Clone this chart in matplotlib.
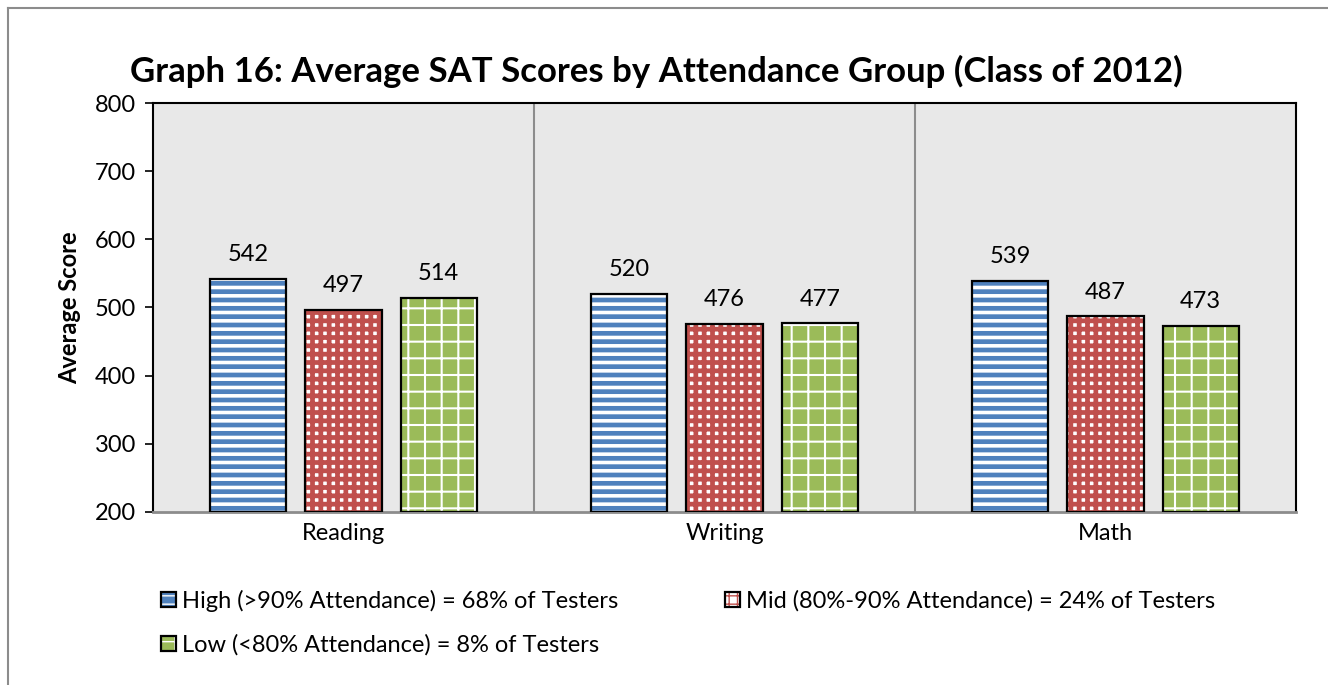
import matplotlib
matplotlib.use('Agg')
import matplotlib.pyplot as plt
import numpy as np
from matplotlib.patches import Patch
from matplotlib.lines import Line2D
from matplotlib.legend_handler import HandlerTuple

plt.rcParams['font.family'] = ['Lato', 'DejaVu Sans']

categories = ['Reading', 'Writing', 'Math']
high_scores = [542, 520, 539]
mid_scores = [497, 476, 487]
low_scores = [514, 477, 473]
series_labels = ['High (>90% Attendance) = 68% of Testers',
                 'Mid (80%-90% Attendance) = 24% of Testers',
                 'Low (<80% Attendance) = 8% of Testers']
yticks = [200, 300, 400, 500, 600, 700, 800]

# face colour, hatch colour, hatch pattern, hatch width
face_colors = ['#4F81BD', 'white', '#9BBB59']
hatch_colors = ['white', '#C0504D', 'white']
hatches = ['--', '++', '+']
hatch_lw = [2.6, 3.4, 1.5]


def main():
    fig = plt.figure(figsize=(13.28, 6.85), dpi=100)
    ax = fig.add_axes([0.1152, 0.2526, 0.8607, 0.597])
    ax.set_facecolor('#E8E8E8')

    x = np.arange(len(categories))
    width = 0.2
    offsets = [-0.25, 0, 0.25]
    all_scores = [high_scores, mid_scores, low_scores]

    handles = []
    for i, scores in enumerate(all_scores):
        with plt.rc_context({'hatch.linewidth': hatch_lw[i]}):
            ax.bar(x + offsets[i], np.array(scores) - 200, width, bottom=200,
                   color=face_colors[i], hatch=hatches[i], edgecolor=hatch_colors[i],
                   linewidth=0, zorder=2)
            hp = Patch(facecolor=face_colors[i], hatch=hatches[i], edgecolor=hatch_colors[i],
                       linewidth=0)
        ax.bar(x + offsets[i], np.array(scores) - 200, width, bottom=200,
               fill=False, edgecolor='black', linewidth=1.6, zorder=3)
        for xi, s in zip(x + offsets[i], scores):
            ax.text(xi, s + 20, str(s), ha='center', va='bottom', fontsize=17)
        op = Patch(fill=False, edgecolor='black', linewidth=1.6)
        handles.append((hp, op))

    # separators between categories
    for sx in [0.5, 1.5]:
        ax.axvline(sx, color='#8C8C8C', linewidth=1.5, zorder=1)

    ax.set_xlim(-0.5, 2.5)
    ax.set_ylim(200, 800)
    ax.set_yticks(yticks)
    ax.set_xticks(x)
    ax.set_xticklabels(categories)
    ax.tick_params(axis='x', length=0, labelsize=17, pad=8)
    ax.tick_params(axis='y', length=6, width=1.2, labelsize=17, pad=6)
    for side in ['left', 'top', 'right']:
        ax.spines[side].set_color('black')
        ax.spines[side].set_linewidth(1.5)
    ax.spines['bottom'].set_color('#8C8C8C')
    ax.spines['bottom'].set_linewidth(2)
    ax.set_ylabel('Average Score', fontsize=17, fontweight='bold', labelpad=10)

    fig.text(0.494, 0.895, 'Graph 16: Average SAT Scores by Attendance Group (Class of 2012)',
             ha='center', va='center', fontsize=25, fontweight='bold')

    # row-major order for a 2-column legend
    order = [0, 2, 1]
    fig.legend([handles[k] for k in order], [series_labels[k] for k in order],
               handler_map={tuple: HandlerTuple(ndivide=1)},
               ncol=2, loc='upper left', bbox_to_anchor=(0.114, 0.153),
               frameon=False, fontsize=17, handlelength=0.65, handleheight=0.65,
               handletextpad=0.25, columnspacing=4.5, labelspacing=0.95,
               borderaxespad=0)

    # outer chart border (top and left visible)
    fig.add_artist(Line2D([8 / 1328, 8 / 1328], [0, 1 - 8 / 685], transform=fig.transFigure,
                          color='#8C8C8C', linewidth=1.5))
    fig.add_artist(Line2D([8 / 1328, 1], [1 - 8 / 685, 1 - 8 / 685], transform=fig.transFigure,
                          color='#8C8C8C', linewidth=1.5))

    fig.savefig('out.png', dpi=100)
    plt.close(fig)


if __name__ == '__main__':
    main()
